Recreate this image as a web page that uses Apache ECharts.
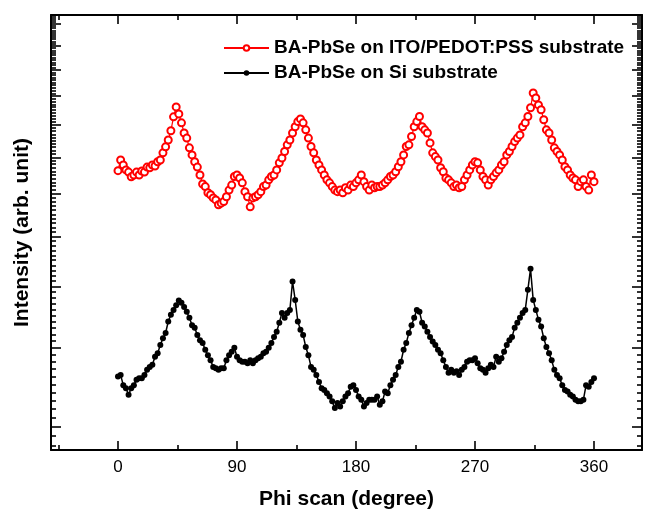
<!DOCTYPE html>
<html><head><meta charset="utf-8">
<script src="https://cdn.jsdelivr.net/npm/echarts@6/dist/echarts.min.js"></script>
<style>html,body{margin:0;padding:0;background:#fff}#c{width:645px;height:515px}</style>
</head><body><div id="c"></div>
<script>
// Phi angle (degree)
const phi = [0,2,4,6,8,10,12,14,16,18,20,22,24,26,28,30,32,34,36,38,40,42,44,46,48,50,52,54,56,58,
60,62,64,66,68,70,72,74,76,78,80,82,84,86,88,90,92,94,96,98,100,102,104,106,108,110,112,114,116,118,
120,122,124,126,128,130,132,134,136,138,140,142,144,146,148,150,152,154,156,158,160,162,164,166,168,170,172,174,176,178,
180,182,184,186,188,190,192,194,196,198,200,202,204,206,208,210,212,214,216,218,220,222,224,226,228,230,232,234,236,238,
240,242,244,246,248,250,252,254,256,258,260,262,264,266,268,270,272,274,276,278,280,282,284,286,288,290,292,294,296,298,
300,302,304,306,308,310,312,314,316,318,320,322,324,326,328,330,332,334,336,338,340,342,344,346,348,350,352,354,356,358,360];
// Intensity (arb. unit), BA-PbSe on ITO/PEDOT:PSS
const itoIntensity = [7.62,7.92,7.78,7.64,7.58,7.45,7.50,7.58,7.50,7.61,7.58,7.72,7.70,7.78,7.75,7.87,7.92,8.13,8.31,8.52,
8.81,9.27,9.61,9.37,9.07,8.74,8.58,8.28,8.07,7.87,7.72,7.50,7.26,7.19,7.03,6.98,6.90,6.85,6.73,6.77,
6.81,6.93,7.10,7.23,7.46,7.50,7.42,7.29,7.06,6.93,6.68,6.90,6.93,6.98,7.06,7.19,7.23,7.37,7.46,7.50,
7.64,7.84,7.98,8.17,8.37,8.52,8.74,8.94,9.11,9.20,9.07,8.84,8.58,8.32,8.13,7.92,7.78,7.64,7.50,7.37,
7.29,7.19,7.10,7.06,7.10,7.03,7.16,7.10,7.23,7.19,7.29,7.37,7.50,7.32,7.19,7.10,7.23,7.16,7.19,7.19,
7.23,7.29,7.37,7.46,7.50,7.59,7.73,7.87,8.07,8.32,8.37,8.63,8.94,9.11,9.28,8.94,8.84,8.74,8.43,8.13,
8.02,7.92,7.70,7.59,7.42,7.37,7.29,7.19,7.23,7.16,7.19,7.37,7.50,7.64,7.78,7.87,7.84,7.64,7.46,7.37,
7.23,7.37,7.46,7.56,7.64,7.78,7.87,8.07,8.17,8.32,8.47,8.58,8.68,8.94,9.07,9.28,9.58,10.11,9.93,9.68,
9.51,9.17,8.84,8.74,8.52,8.28,8.17,8.07,7.92,7.73,7.64,7.50,7.42,7.37,7.19,7.32,7.37,7.19,7.10,7.50,7.32];
// Intensity (arb. unit), BA-PbSe on Si
const siIntensity = [3.60,3.62,3.49,3.45,3.37,3.45,3.49,3.56,3.58,3.58,3.62,3.69,3.73,3.76,3.87,3.92,4.04,4.14,4.22,4.40,
4.51,4.59,4.67,4.75,4.71,4.64,4.56,4.46,4.34,4.30,4.19,4.11,4.07,3.97,3.89,3.82,3.73,3.71,3.69,3.71,
3.71,3.82,3.89,3.94,4.00,3.87,3.82,3.80,3.80,3.78,3.82,3.78,3.82,3.85,3.87,3.92,3.94,4.00,4.07,4.16,
4.24,4.38,4.54,4.46,4.54,4.59,5.09,4.76,4.40,4.27,4.19,4.01,3.89,3.73,3.69,3.62,3.53,3.45,3.43,3.39,
3.35,3.29,3.21,3.27,3.23,3.29,3.35,3.39,3.47,3.49,3.43,3.35,3.31,3.23,3.27,3.31,3.31,3.31,3.35,3.25,
3.29,3.41,3.39,3.49,3.56,3.62,3.73,3.80,3.97,4.07,4.22,4.34,4.46,4.59,4.56,4.38,4.32,4.24,4.16,4.09,
4.04,3.97,3.92,3.82,3.73,3.65,3.69,3.65,3.67,3.62,3.69,3.73,3.80,3.82,3.82,3.85,3.78,3.71,3.69,3.65,
3.71,3.76,3.73,3.87,3.80,3.85,3.94,4.04,4.11,4.16,4.30,4.38,4.46,4.54,4.59,4.94,5.33,4.76,4.59,4.43,
4.32,4.14,4.01,3.92,3.82,3.69,3.62,3.58,3.49,3.43,3.41,3.37,3.35,3.31,3.29,3.29,3.31,3.49,3.47,3.53,3.58];
const seriesNames = ['BA-PbSe on ITO/PEDOT:PSS substrate', 'BA-PbSe on Si substrate'];
const xLabelValues = [0, 90, 180, 270, 360];
const xMinorValues = [-45, 45, 135, 225, 315];
const yMajorValues = [3, 4, 5, 6, 7, 8, 9, 10, 11, 12, 13];
const xMin = -50.67, xMax = 396.3;
const yMin = 2.756, yMax = 13.43;

const FONT = '"Liberation Sans", Arial, sans-serif';
const yMinorValues = [];
for (let k = 28; k <= 134; k++) { if (k % 10 !== 0) yMinorValues.push(k / 10); }
const ln = v => Math.log(v);

function xAx(pos, ticks, len, main) {
  return {
    type: 'value', position: pos, min: xMin, max: xMax,
    axisLine: { show: main, onZero: false, lineStyle: { color: '#000', width: 2 } },
    axisTick: { show: true, inside: true, length: len, customValues: ticks, lineStyle: { color: '#000', width: 1.6 } },
    axisLabel: (main && pos === 'bottom') ? { show: true, customValues: xLabelValues, color: '#000', fontSize: 17, fontFamily: FONT, margin: 9 } : { show: false },
    splitLine: { show: false },
    name: (main && pos === 'bottom') ? 'Phi scan (degree)' : '',
    nameLocation: 'middle', nameGap: 39,
    nameTextStyle: { color: '#000', fontSize: 21, fontWeight: 'bold', fontFamily: FONT }
  };
}
function yAx(pos, ticks, len, main) {
  return {
    type: 'value', position: pos, min: ln(yMin), max: ln(yMax),
    axisLine: { show: main, onZero: false, lineStyle: { color: '#000', width: 2 } },
    axisTick: { show: true, inside: true, length: len, customValues: ticks.map(ln), lineStyle: { color: '#000', width: 1.6 } },
    axisLabel: { show: false },
    splitLine: { show: false },
    name: (main && pos === 'left') ? 'Intensity (arb. unit)' : '',
    nameLocation: 'middle', nameGap: 18, nameRotate: 90,
    nameTextStyle: { color: '#000', fontSize: 21, fontWeight: 'bold', fontFamily: FONT }
  };
}

const chart = echarts.init(document.getElementById('c'), null, { renderer: 'canvas' });
chart.setOption({
  animation: false,
  backgroundColor: '#fff',
  grid: { left: 51, right: 3, top: 15, bottom: 65, containLabel: false },
  xAxis: [xAx('bottom', xLabelValues, 9, true), xAx('bottom', xMinorValues, 5, false),
          xAx('top', xLabelValues, 9, true), xAx('top', xMinorValues, 5, false)],
  yAxis: [yAx('left', yMajorValues, 10, true), yAx('left', yMinorValues, 5, false),
          yAx('right', yMajorValues, 10, true), yAx('right', yMinorValues, 5, false)],
  legend: {
    orient: 'vertical', left: 218, top: 33, itemWidth: 45, itemHeight: 7, itemGap: 5,
    textStyle: { color: '#000', fontSize: 19, fontWeight: 'bold', fontFamily: FONT, lineHeight: 20 },
    data: seriesNames
  },
  series: [
    {
      name: seriesNames[0], type: 'line', xAxisIndex: 0, yAxisIndex: 0,
      data: phi.map((p, i) => [p, ln(itoIntensity[i])]),
      symbol: 'emptyCircle', symbolSize: 7, showAllSymbol: true,
      itemStyle: { color: '#ff0000', borderColor: '#ff0000', borderWidth: 1 },
      lineStyle: { color: '#ff0000', width: 1.2 }
    },
    {
      name: seriesNames[1], type: 'line', xAxisIndex: 0, yAxisIndex: 0,
      data: phi.map((p, i) => [p, ln(siIntensity[i])]),
      symbol: 'circle', symbolSize: 6, showAllSymbol: true,
      itemStyle: { color: '#000' },
      lineStyle: { color: '#000', width: 1.5 }
    }
  ]
});
</script></body></html>
